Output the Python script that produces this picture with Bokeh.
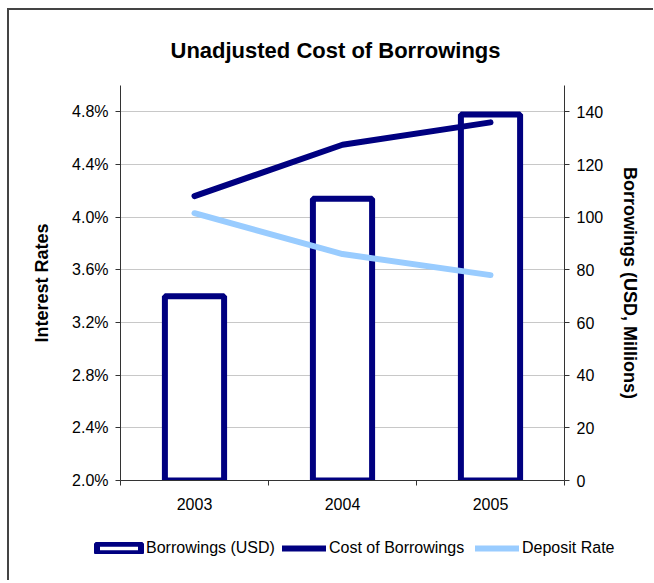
from bokeh.plotting import figure
from bokeh.models import (Range1d, LinearAxis, FixedTicker, PrintfTickFormatter,
                          Legend, LegendItem)
from bokeh.layouts import column
from bokeh.embed import file_html
from bokeh.resources import INLINE

# ---- data ----
years = ["2003", "2004", "2005"]
borrowings = [70, 107, 139]            # USD millions (right axis)
cost_of_borrowings = [4.16, 4.55, 4.72]  # % (left axis)
deposit_rate = [4.03, 3.72, 3.56]        # % (left axis)
rate_ticks = [2.0, 2.4, 2.8, 3.2, 3.6, 4.0, 4.4, 4.8]
borrow_ticks = [0, 20, 40, 60, 80, 100, 120, 140]
series_labels = ["Borrowings (USD)", "Cost of Borrowings", "Deposit Rate"]

FONT = "Liberation Sans"
NAVY = "#000080"
LIGHT = "#99CCFF"
AXIS = "#333333"

xpos = [i + 0.5 for i in range(len(years))]
bounds = list(range(len(years) + 1))

p = figure(width=644, height=510, output_backend="svg", toolbar_location=None,
           x_range=Range1d(0, len(years)), y_range=Range1d(2.0, 5.0),
           min_border_left=111, min_border_right=89, min_border_top=75,
           min_border_bottom=40, title="Unadjusted Cost of Borrowings")
p.outline_line_color = None
p.background_fill_color = "white"
p.border_fill_color = "white"

p.title.text_font = FONT
p.title.text_font_size = "22px"
p.title.text_font_style = "bold"
p.title.align = "left"
p.title.offset = 50
p.title.standoff = 45
p.title.text_color = "black"

p.extra_y_ranges = {"borrow": Range1d(0, 150)}

# bottom axis
xa = p.xaxis[0]
xa.ticker = FixedTicker(ticks=xpos, minor_ticks=bounds)
xa.major_label_overrides = {x: y for x, y in zip(xpos, years)}
xa.major_tick_line_color = None
xa.major_tick_out = 0
xa.major_tick_in = 0
xa.minor_tick_out = 5
xa.minor_tick_in = 0
xa.minor_tick_line_color = AXIS
xa.axis_line_color = AXIS
xa.major_label_standoff = 12
xa.major_label_text_font = FONT
xa.major_label_text_font_size = "16px"
xa.major_label_text_color = "black"

# left axis
ya = p.yaxis[0]
ya.ticker = FixedTicker(ticks=rate_ticks)
ya.formatter = PrintfTickFormatter(format="%.1f%%")
ya.axis_label = "Interest Rates"
ya.minor_tick_line_color = None
ya.major_tick_out = 5
ya.major_tick_in = 0
ya.major_tick_line_color = AXIS
ya.axis_line_color = AXIS
ya.major_label_standoff = 7
ya.major_label_text_font = FONT
ya.major_label_text_font_size = "16px"
ya.major_label_text_color = "black"
ya.axis_label_text_font = FONT
ya.axis_label_text_font_size = "18px"
ya.axis_label_text_font_style = "bold"
ya.axis_label_text_color = "black"
ya.axis_label_standoff = 17

# right axis
ra = LinearAxis(y_range_name="borrow", ticker=FixedTicker(ticks=borrow_ticks),
                axis_label="Borrowings (USD, Millions)")
ra.minor_tick_line_color = None
ra.major_tick_out = 5
ra.major_tick_in = 0
ra.major_tick_line_color = AXIS
ra.axis_line_color = AXIS
ra.major_label_standoff = 7
ra.major_label_text_font = FONT
ra.major_label_text_font_size = "16px"
ra.major_label_text_color = "black"
ra.axis_label_text_font = FONT
ra.axis_label_text_font_size = "18px"
ra.axis_label_text_font_style = "bold"
ra.axis_label_text_color = "black"
ra.axis_label_standoff = 14
p.add_layout(ra, "right")

p.xgrid.visible = False
p.ygrid.grid_line_color = "#c8c8c8"
p.ygrid.grid_line_width = 1

bar_style = dict(fill_color="white", line_color=NAVY, line_width=6)
cost_style = dict(line_color=NAVY, line_width=6, line_cap="round", line_join="round")
dep_style = dict(line_color=LIGHT, line_width=6, line_cap="round", line_join="round")

p.vbar(x=xpos, top=borrowings, bottom=0, width=0.4, y_range_name="borrow", **bar_style)
p.line(xpos, cost_of_borrowings, **cost_style)
p.line(xpos, deposit_rate, **dep_style)

# ---- legend strip (separate figure so the legend is not clipped by the frame) ----
# its renderers hold the same series but are hidden; only the legend swatches show
lg = figure(width=644, height=60, output_backend="svg", toolbar_location=None,
            x_range=Range1d(0, len(years)), y_range=Range1d(0, 150), min_border=0)
lg.axis.visible = False
lg.grid.visible = False
lg.outline_line_color = None
lg.border_fill_color = "white"
lg.background_fill_color = "white"
lg_bar = lg.vbar(x=xpos, top=borrowings, bottom=0, width=0.4, visible=False, **bar_style)
lg_cost = lg.line(xpos, cost_of_borrowings, visible=False, **cost_style)
lg_dep = lg.line(xpos, deposit_rate, visible=False, **dep_style)

legend_specs = [  # (renderer, glyph width, location, label standoff)
    (lg_bar, 55, (82, 23), 0),
    (lg_cost, 44, (273, 23), 3),
    (lg_dep, 44, (466, 23), 3),
]
for (rend, gw, loc, so), lab in zip(legend_specs, series_labels):
    leg = Legend(items=[LegendItem(label=lab, renderers=[rend])],
                 orientation="horizontal", location=loc,
                 glyph_width=gw, glyph_height=12, label_standoff=so, spacing=0,
                 border_line_color=None, background_fill_alpha=0,
                 inactive_fill_alpha=0,
                 label_text_font=FONT, label_text_font_size="16px",
                 label_text_color="black", padding=0, margin=0)
    lg.add_layout(leg, "center")

for fig in (p, lg):
    try:
        fig.frame_align = False
    except Exception:
        pass

layout = column(p, lg, margin=(8, 0, 0, 7), spacing=0,
                styles={"border-left": "2px solid #444444",
                        "border-top": "2px solid #444444"})

open("out.html", "w").write(file_html(layout, INLINE))
